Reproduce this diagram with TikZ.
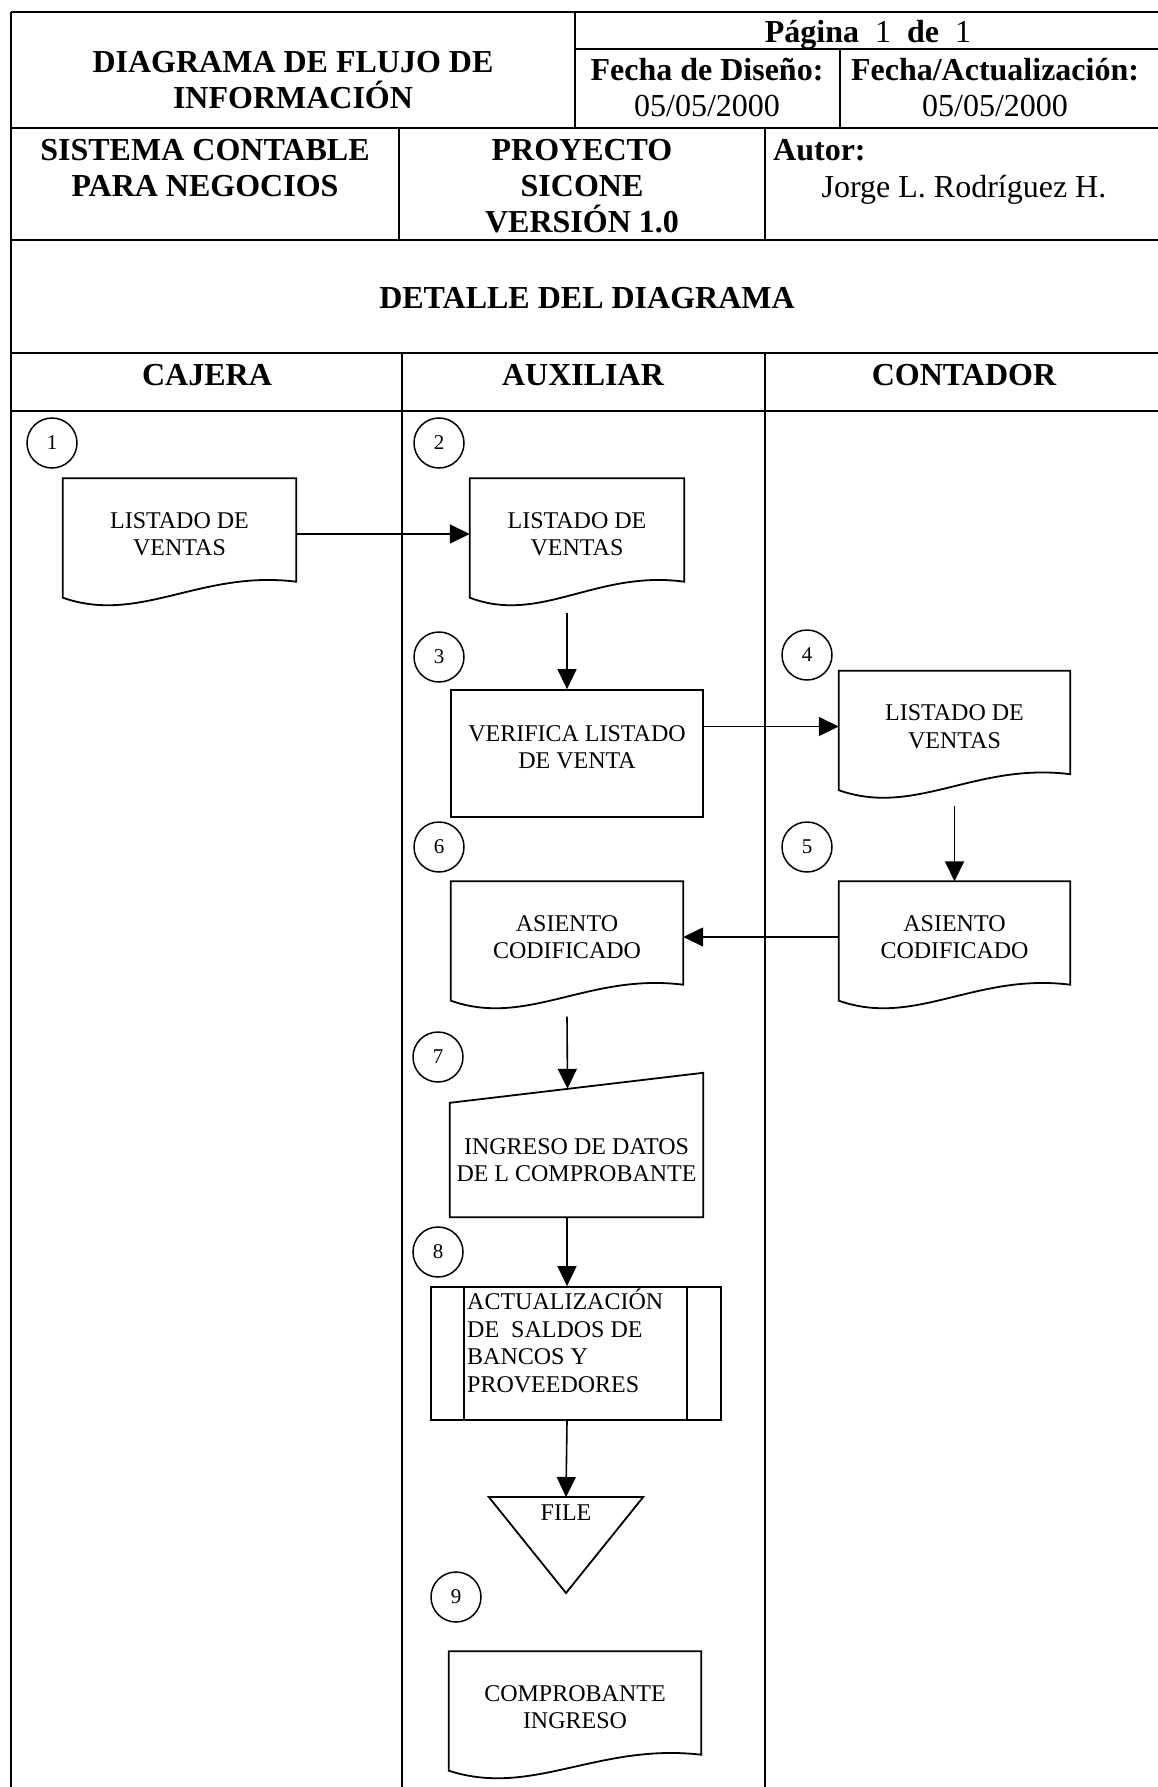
\documentclass[tikz,border=0pt]{standalone}
\usepackage{fontspec}
\setmainfont{Liberation Serif}
\usetikzlibrary{arrows.meta,calc}

% outline of a document symbol (wavy bottom)
\newcommand{\docwave}[1]{%
  \draw[shape line] (#1.north west) -- (#1.north east) -- ([yshift=8pt]#1.south east)
    .. controls ($(#1.south east)!0.41!(#1.south west)+(0,-20)$) and ($(#1.south east)!0.67!(#1.south west)+(0,35)$)
    .. ([yshift=-8pt]#1.south west) -- cycle;}

\begin{document}
\begin{tikzpicture}[x=1pt,y=-1pt,
  grid line/.style={line width=2.2pt},
  lane line/.style={line width=1.4pt},
  shape line/.style={line width=1.8pt},
  arr/.style={line width=1.6pt,-{Triangle[length=20pt,width=19pt]}},
  headtxt/.style={font=\fontsize{32}{36}\selectfont\bfseries,align=center,inner sep=0pt},
  plaintxt/.style={font=\fontsize{32}{36}\selectfont,inner sep=0pt},
  bodytxt/.style={font=\fontsize{24}{27.5}\selectfont,align=center},
  stepno/.style={circle,draw,line width=1.5pt,minimum size=50pt,inner sep=0pt,font=\fontsize{21}{24}\selectfont},
  docbox/.style={bodytxt,minimum height=111pt,inner sep=0pt},
  procbox/.style={bodytxt,draw,shape line,minimum width=252pt,minimum height=127pt,inner sep=0pt},
  inbox/.style={bodytxt,minimum width=253pt,minimum height=114pt,inner sep=0pt},
  predefbox/.style={draw,shape line,minimum width=290pt,minimum height=133pt},
  filebox/.style={bodytxt,anchor=north,minimum width=154pt,inner xsep=0pt,inner ysep=8pt}]
\useasboundingbox (0,0) rectangle (1158,1787);

% frame and lanes
\foreach \y in {12,128,240,353,411}
  \draw[grid line] (11,\y) -- (1170,\y);
\draw[grid line] (575,49) -- (1170,49);
\draw[grid line] (575,12) -- (575,128);
\draw[grid line] (840,49) -- (840,128);
\draw[grid line] (399,128) -- (399,240);
\draw[grid line] (765,128) -- (765,240);
\draw[lane line] (11,12) -- (11,1800);
\draw[lane line] (402,353) -- (402,1800);
\draw[lane line] (765,353) -- (765,1800);

% header
\node[headtxt] (title) at (293,80.5) {DIAGRAMA DE FLUJO DE\\INFORMACIÓN};
\node[headtxt,anchor=base] (page) at (868,42.5) {Página\ \ {\mdseries 1}\ \ de\ \ {\mdseries 1}};
\node[headtxt] (fdis) at (707,70) {Fecha de Diseño:};
\node[plaintxt] (fdisv) at (707,106) {05/05/2000};
\node[headtxt] (fact) at (995,70) {Fecha/Actualización:};
\node[plaintxt] (factv) at (995,106) {05/05/2000};
\node[headtxt] (sistema) at (205,168.5) {SISTEMA CONTABLE\\PARA NEGOCIOS};
\node[headtxt] (proyecto) at (582,186.5) {PROYECTO\\SICONE\\VERSIÓN 1.0};
\node[headtxt,anchor=west] (autor) at (773,150) {Autor:};
\node[plaintxt,anchor=base] (jorge) at (964,197.5) {Jorge L. Rodríguez H.};
\node[headtxt] (detalle) at (587,298) {DETALLE DEL DIAGRAMA};
\node[headtxt] (cajera) at (207,375) {CAJERA};
\node[headtxt] (auxiliar) at (583,375) {AUXILIAR};
\node[headtxt] (contador) at (964,375) {CONTADOR};

% step numbers
\node[stepno] (n1) at (52,443) {1};
\node[stepno] (n2) at (439,443) {2};
\node[stepno] (n3) at (439,657) {3};
\node[stepno] (n4) at (807,655) {4};
\node[stepno] (n5) at (807,847) {5};
\node[stepno] (n6) at (439,847) {6};
\node[stepno] (n7) at (438,1057) {7};
\node[stepno] (n8) at (438,1252) {8};
\node[stepno] (n9) at (456,1597) {9};

% flow
\coordinate (axis) at (567,0);
\node[docbox,minimum width=233pt] (d1) at (179.5,534) {LISTADO DE\\VENTAS};
\node[docbox,minimum width=214pt] (d2) at (577,534) {LISTADO DE\\VENTAS};
\node[procbox] (v3) at (577,753.5) {VERIFICA LISTADO\\DE VENTA\\[-15pt]\mbox{}};
\node[docbox,minimum width=231pt] (d4) at (954.5,726.5) {LISTADO DE\\VENTAS};
\node[docbox,minimum width=231pt] (d5) at (954.5,937) {ASIENTO\\CODIFICADO};
\node[docbox,minimum width=232pt] (d6) at (567,937) {ASIENTO\\CODIFICADO};
\node[inbox] (m7) at (576.5,1160) {INGRESO DE DATOS\\DE L COMPROBANTE};
\node[predefbox] (p8) at (576,1353.5) {};
\node[bodytxt,align=left,anchor=north west,inner sep=0pt] (p8txt) at (467,1289) {ACTUALIZACIÓN\\DE\ \ SALDOS DE\\BANCOS Y\\PROVEEDORES};
\node[filebox] (f) at (566,1497) {FILE};
\node[docbox,minimum width=252pt] (d9) at (575,1707) {COMPROBANTE\\INGRESO};

\docwave{d1}
\docwave{d2}
\docwave{d4}
\docwave{d5}
\docwave{d6}
\docwave{d9}
\draw[shape line] (m7.south west) -- (m7.north west) -- ([yshift=30pt]m7.north east) -- (m7.south east) -- cycle;
\draw[shape line] ([xshift=34pt]p8.north west) -- ([xshift=34pt]p8.south west);
\draw[shape line] ([xshift=-35pt]p8.north east) -- ([xshift=-35pt]p8.south east);
\draw[shape line] (f.north west) -- (f.north east) -- ([yshift=-96pt]f.north) -- cycle;

\draw[arr] (d1.east) -- (d2.west);
\draw[arr] (d2.south -| axis) ++(0,23) -- (v3.north -| axis);
\draw[arr] (v3.east |- d4.west) -- (d4.west);
\draw[arr] (d4.south) ++(0,24) -- (d5.north);
\draw[arr] (d5.west) -- (d6.east);
\draw[arr] (d6.south -| axis) ++(0,24) -- ([xshift=-9pt,yshift=14pt]m7.north);
\draw[arr] (m7.south -| axis) -- (p8.north -| axis);
\draw[arr] (p8.south -| axis) -- (f.north);
\end{tikzpicture}
\end{document}
